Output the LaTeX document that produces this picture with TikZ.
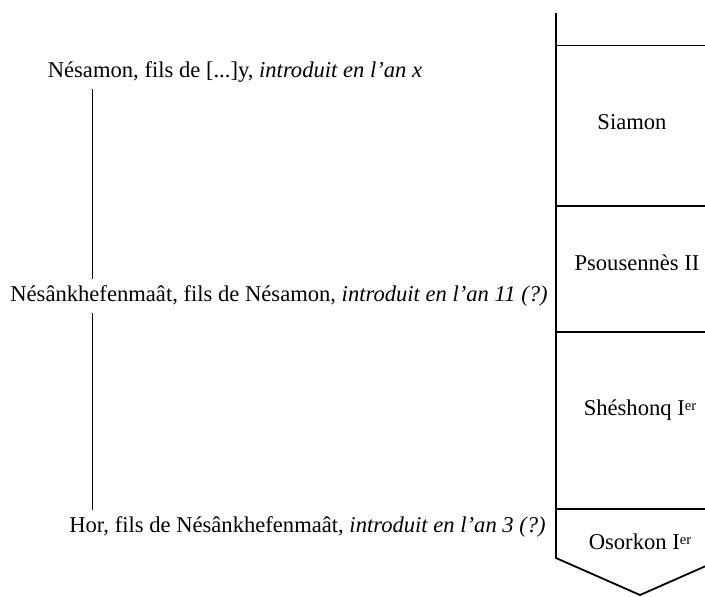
\documentclass[tikz,border=0pt]{standalone}
\usepackage{fontspec}
\setmainfont{Liberation Serif}
\newcommand{\er}{\raisebox{2.7pt}{\fontsize{7.3}{8}\selectfont er}}

\begin{document}
\begin{tikzpicture}[x=0.5pt,y=-0.5pt,
    entry/.style={font=\fontsize{11.3}{13}\selectfont},
    reign/.style={line width=0.9pt}]
    \clip (0,0) rectangle (705,596);
    %PRETRES
    \node[entry] (nesamon) at (235,72) {Nésamon, fils de [...]y, \textit{introduit en l'an x}};
    \node[entry] (nesank) at (279,296) {Nésânkhefenmaât, fils de Nésamon, \textit{introduit en l'an 11 (?)}};
    \node[entry] (hor) at (307.5,527) {Hor, fils de Nésânkhefenmaât, \textit{introduit en l'an 3 (?)}};
    \coordinate (lx) at (92,0);
    \draw (nesamon.south -| lx) -- (nesank.north -| lx);
    \draw (nesank.south -| lx) -- (hor.north -| lx);

    %ROIS
    \def\cl{556}; \def\cr{724};
    \coordinate (col top) at (\cl,13);
    \coordinate (col tip) at (640,595);
    \draw [reign] (col top) -- (\cl,558) -- (col tip) -- (\cr,558);
    \foreach \y in {45.5,206,332,509}
      \draw [reign] (\cl,\y) -- (\cr,\y);
    \node[entry] (siamon) at (632,122) {Siamon};
    \node[entry] (psousennes) at (637,263) {Psousennès II};
    \node[entry] (sheshonq) at (640,410) {Shéshonq I\er};
    \node[entry] (osorkon) at (640,542) {Osorkon I\er};
  \end{tikzpicture}
\end{document}
